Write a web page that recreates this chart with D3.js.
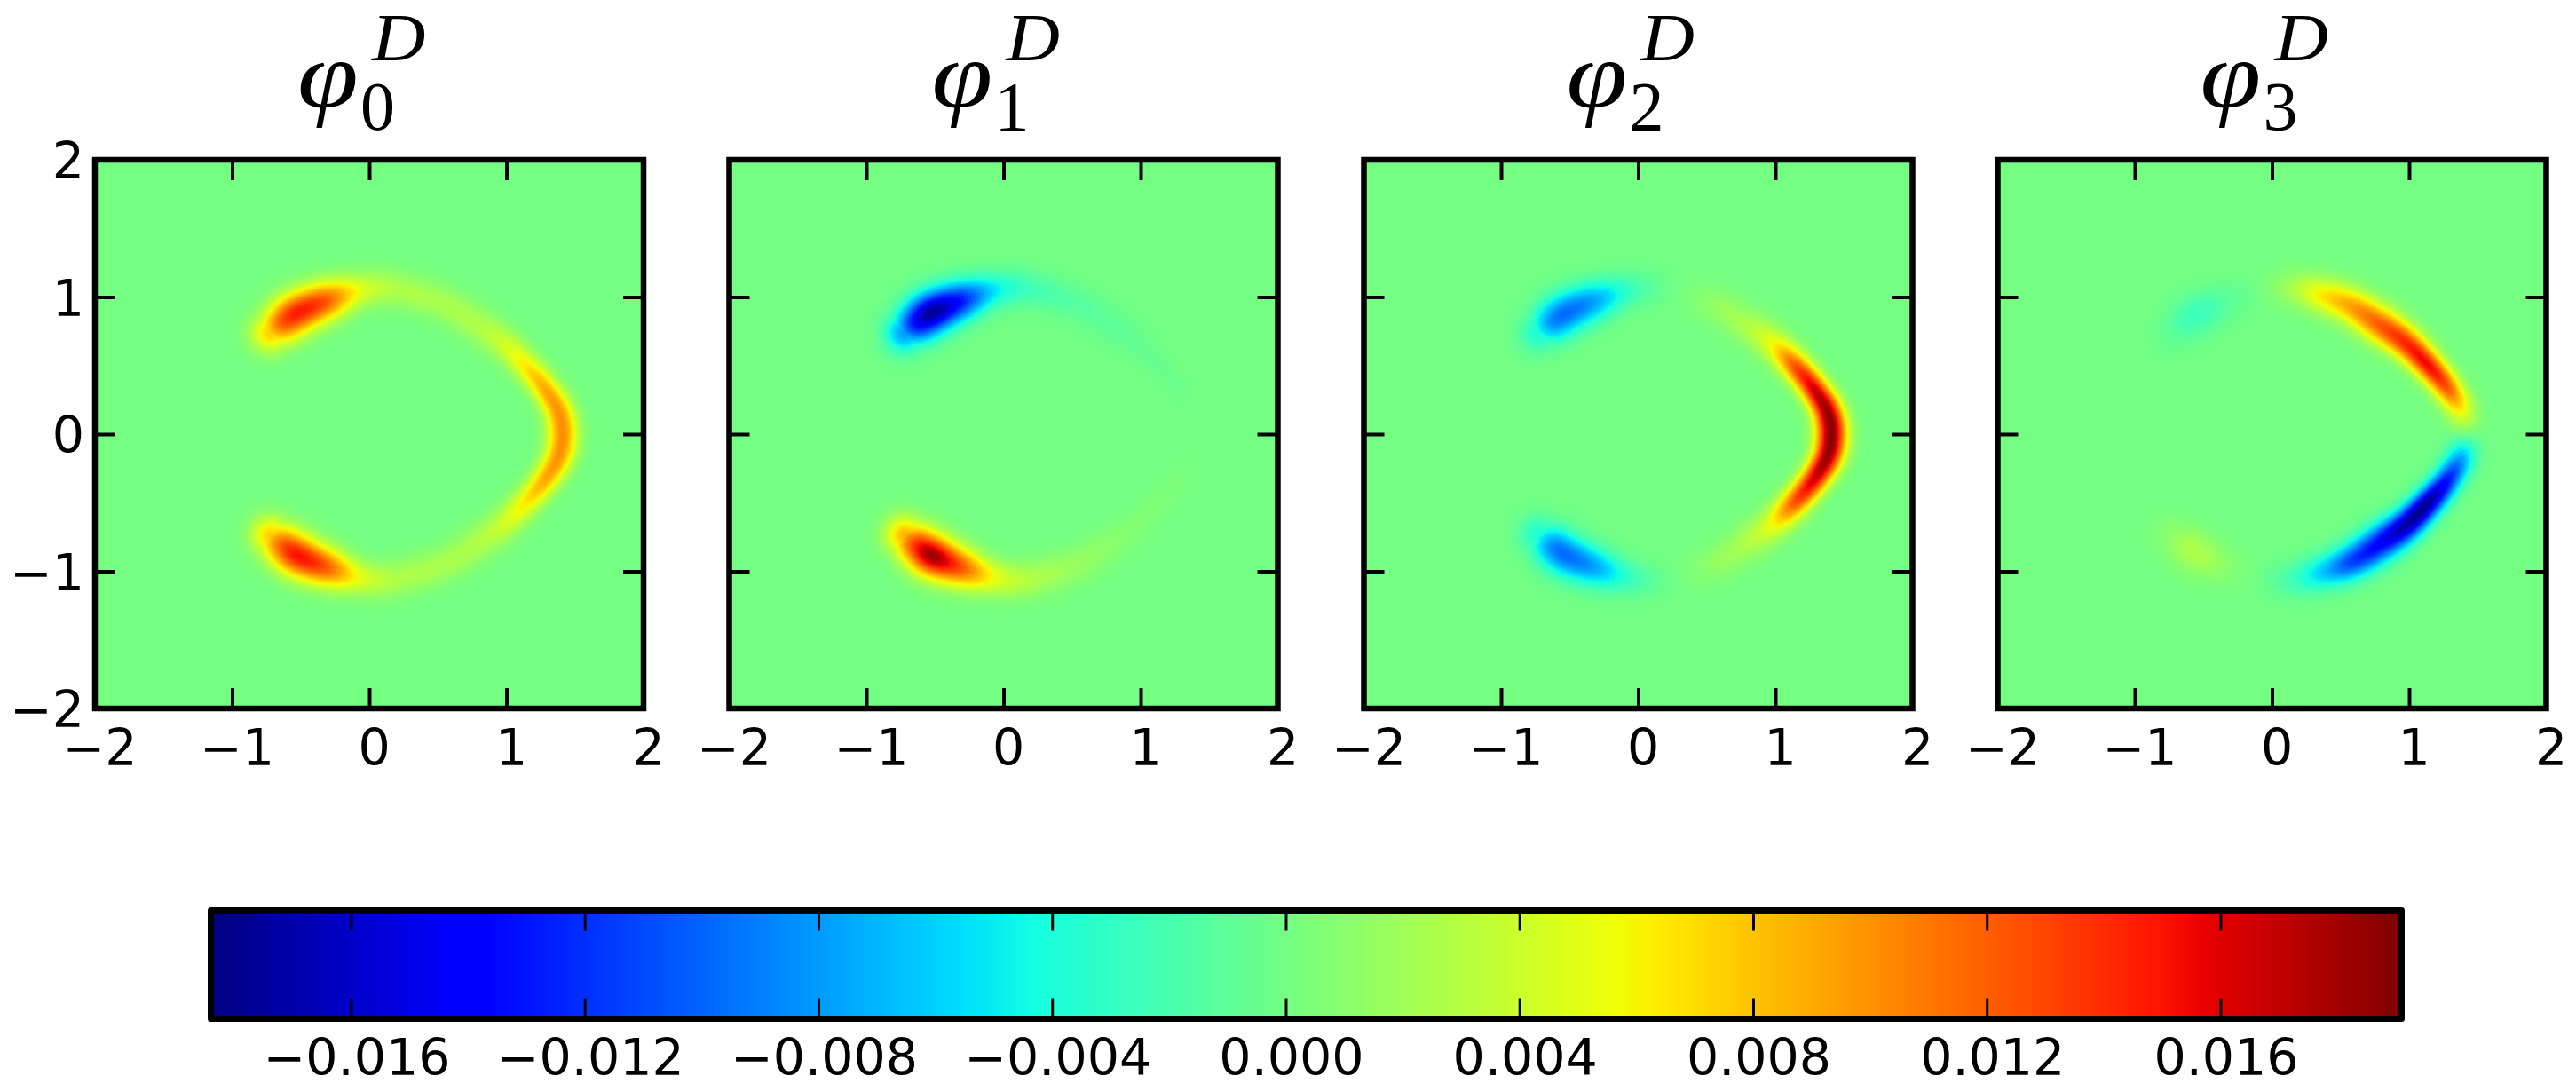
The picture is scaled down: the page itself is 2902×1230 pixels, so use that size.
<!DOCTYPE html>
<html>
<head>
<meta charset="utf-8">
<script src="https://cdnjs.cloudflare.com/ajax/libs/d3/7.8.5/d3.min.js"></script>
<style>
html, body { margin: 0; padding: 0; background: #fff; }
svg { display: block; }
text { fill: #000; }
.tick text { font-family: "DejaVu Sans", sans-serif; }
</style>
</head>
<body>
<script>
// panel titles, axis ticks
var subscripts = ['0', '1', '2', '3'];
var axisTicks = [-2, -1, 0, 1, 2];
var colorTicks = [-0.016, -0.012, -0.008, -0.004, 0, 0.004, 0.008, 0.012, 0.016];
var colorDomain = [-0.0184, 0.0191];

// stations read along the crescent, from its upper left end round the tip to the lower left end
var ridgeX = [-0.72, -0.63, -0.513, -0.32, -0.08, 0.15, 0.37, 0.58, 0.80, 0.98, 1.14, 1.276, 1.378, 1.408,
              1.378, 1.276, 1.14, 0.98, 0.80, 0.58, 0.37, 0.15, -0.08, -0.32, -0.513, -0.63, -0.72];
var ridgeY = [0.74, 0.81, 0.889, 0.97, 1.045, 1.06, 1.01, 0.93, 0.79, 0.66, 0.50, 0.338, 0.168, 0,
              -0.168, -0.338, -0.50, -0.66, -0.79, -0.93, -1.01, -1.06, -1.045, -0.97, -0.889, -0.81, -0.74];
var ridgeWidth = [0.10, 0.105, 0.105, 0.10, 0.09, 0.09, 0.09, 0.09, 0.09, 0.08, 0.072, 0.07, 0.075, 0.078,
                  0.075, 0.07, 0.072, 0.08, 0.09, 0.09, 0.09, 0.09, 0.09, 0.10, 0.105, 0.105, 0.10];

// value of each function at those stations
var phi0 = [0.0075, 0.0125, 0.0148, 0.0125, 0.0055, 0.003, 0.0026, 0.0025, 0.0028, 0.0042, 0.0066, 0.009, 0.01, 0.0102,
            0.01, 0.009, 0.0066, 0.0042, 0.0028, 0.0025, 0.0026, 0.003, 0.0055, 0.0125, 0.0152, 0.0125, 0.0075];
var phi1 = [-0.008, -0.0145, -0.0178, -0.0135, -0.0058, -0.0028, -0.0018, -0.0013, -0.001, -0.0007, -0.0005, -0.0003, -0.0001, 0,
            0.0001, 0.0003, 0.0005, 0.0007, 0.001, 0.0016, 0.0022, 0.0032, 0.0058, 0.013, 0.0182, 0.0145, 0.0085];
var phi2 = [-0.004, -0.0085, -0.0098, -0.0078, -0.0032, -0.0008, 0.0004, 0.0016, 0.0028, 0.0058, 0.0125, 0.0165, 0.0185, 0.019,
            0.0185, 0.0165, 0.0125, 0.0058, 0.0028, 0.0016, 0.0004, -0.0008, -0.0032, -0.0078, -0.0098, -0.0085, -0.004];
var phi3 = [-0.001, -0.0022, -0.0026, -0.0012, 0.0001, 0.0026, 0.0066, 0.0095, 0.0125, 0.0145, 0.0155, 0.0125, 0.006, -0.0002,
            -0.0075, -0.0135, -0.0178, -0.0175, -0.0145, -0.0115, -0.0065, -0.0025, -0.0003, 0.001, 0.0025, 0.0024, 0.0012];
var panels = [phi0, phi1, phi2, phi3];

// matplotlib jet
var jetR = d3.scaleLinear().domain([0, 0.35, 0.66, 0.89, 1]).range([0, 0, 255, 255, 128]);
var jetG = d3.scaleLinear().domain([0, 0.125, 0.375, 0.64, 0.91, 1]).range([0, 0, 255, 255, 0, 0]);
var jetB = d3.scaleLinear().domain([0, 0.11, 0.34, 0.65, 1]).range([128, 255, 255, 0, 0]);
var colorT = d3.scaleLinear().domain(colorDomain).range([0, 1]).clamp(true);

function jet(v) {
    var t = colorT(v);
    return [jetR(t), jetG(t), jetB(t)];
}

var width = 2902, height = 1230;
var panelLeft = [107, 821.5, 1536.5, 2250.5];
var panelSize = 618, panelTop = 180;
var cell = 2;

var svg = d3.select('body').append('svg')
    .attr('width', width)
    .attr('height', height);

var x = d3.scaleLinear().domain([-2, 2]).range([0, panelSize]);
var y = d3.scaleLinear().domain([-2, 2]).range([panelSize, 0]);

// catmull-rom through the stations, so the crescent is smooth
function smooth(a, i, u) {
    var p0 = a[Math.max(i - 1, 0)], p1 = a[i], p2 = a[i + 1], p3 = a[Math.min(i + 2, a.length - 1)];
    return 0.5 * (2 * p1 + (p2 - p0) * u + (2 * p0 - 5 * p1 + 4 * p2 - p3) * u * u + (3 * p1 - p0 - 3 * p2 + p3) * u * u * u);
}

function sampleRidge(values) {
    var out = [], steps = 10;
    d3.range(ridgeX.length - 1).forEach(function (i) {
        d3.range(steps).forEach(function (k) {
            var u = k / steps;
            out.push({
                x: smooth(ridgeX, i, u),
                y: smooth(ridgeY, i, u),
                w: smooth(ridgeWidth, i, u),
                v: smooth(values, i, u)
            });
        });
    });
    var last = ridgeX.length - 1;
    out.push({x: ridgeX[last], y: ridgeY[last], w: ridgeWidth[last], v: values[last]});
    return out;
}

function fieldImage(values) {
    var pts = sampleRidge(values);
    var n = Math.round(panelSize / cell);
    var canvas = document.createElement('canvas');
    canvas.width = n;
    canvas.height = n;
    var ctx = canvas.getContext('2d');
    var img = ctx.createImageData(n, n);
    var back = jet(0);
    for (var j = 0; j < n; j++) {
        var py = y.invert((j + 0.5) * cell);
        for (var i = 0; i < n; i++) {
            var px = x.invert((i + 0.5) * cell);
            var c = back;
            if (px > -1.4 && px < 1.9 && Math.abs(py) < 1.6) {
                var best = Infinity, bp = null;
                for (var k = 0; k < pts.length; k++) {
                    var dx = px - pts[k].x, dy = py - pts[k].y, d = dx * dx + dy * dy;
                    if (d < best) { best = d; bp = pts[k]; }
                }
                c = jet(bp.v * Math.exp(-best / (2 * bp.w * bp.w)));
            }
            var o = (j * n + i) * 4;
            img.data[o] = c[0];
            img.data[o + 1] = c[1];
            img.data[o + 2] = c[2];
            img.data[o + 3] = 255;
        }
    }
    ctx.putImageData(img, 0, 0);
    return canvas.toDataURL();
}

var panel = svg.selectAll('g.panel')
    .data(panels)
    .enter().append('g')
    .attr('class', 'panel')
    .attr('transform', function (d, i) {
        return 'translate(' + panelLeft[i] + ',' + panelTop + ')';
    });

panel.append('image')
    .attr('width', panelSize)
    .attr('height', panelSize)
    .attr('preserveAspectRatio', 'none')
    .attr('href', function (d) { return fieldImage(d); });

function styleAxis(g, size) {
    g.select('.domain').remove();
    g.selectAll('.tick line').attr('stroke', '#000').attr('stroke-width', 4);
    g.selectAll('.tick text').style('font-size', size + 'px').attr('fill', '#000');
}

var tickFormat = d3.format('d');

panel.each(function (d, i) {
    var g = d3.select(this);
    g.append('g')
        .attr('transform', 'translate(0,' + panelSize + ')')
        .call(d3.axisBottom(x).tickValues(axisTicks).tickFormat(tickFormat).tickSizeInner(-23).tickSizeOuter(0).tickPadding(23.5))
        .call(styleAxis, 57)
        .selectAll('.tick text').attr('dx', 5);
    g.append('g')
        .call(d3.axisTop(x).tickValues(axisTicks).tickFormat('').tickSizeInner(-23).tickSizeOuter(0))
        .call(styleAxis, 57);
    g.append('g')
        .call(d3.axisLeft(y).tickValues(axisTicks).tickFormat(i === 0 ? tickFormat : '').tickSizeInner(-23).tickSizeOuter(0).tickPadding(12))
        .call(styleAxis, 57)
        .selectAll('.tick text').attr('dy', '0.365em');
    g.append('g')
        .attr('transform', 'translate(' + panelSize + ',0)')
        .call(d3.axisRight(y).tickValues(axisTicks).tickFormat('').tickSizeInner(-23).tickSizeOuter(0))
        .call(styleAxis, 57);
    g.append('rect')
        .attr('width', panelSize)
        .attr('height', panelSize)
        .attr('fill', 'none')
        .attr('stroke', '#000')
        .attr('stroke-width', 6.5);

    // title
    var cx = panelSize / 2;
    g.append('text')
        .attr('transform', 'translate(' + (cx - 81) + ',-59) scale(1.15,1)')
        .style('font-family', '"Liberation Serif", serif')
        .style('font-style', 'italic')
        .style('font-size', '108px')
        .text('\u03C6');
    g.append('text')
        .attr('x', cx - 10).attr('y', -34.5)
        .style('font-family', '"Liberation Serif", serif')
        .style('font-size', '78px')
        .text(subscripts[i]);
    g.append('text')
        .attr('transform', 'translate(' + (cx + 3) + ',-112) scale(1.1,1)')
        .style('font-family', '"Liberation Serif", serif')
        .style('font-style', 'italic')
        .style('font-size', '76px')
        .text('D');
});

// colour bar
var barLeft = 237.5, barRight = 2705.5, barTop = 1025.5, barBottom = 1147.5;
var barScale = d3.scaleLinear().domain(colorDomain).range([barLeft, barRight]);
var bar = svg.append('g');

bar.selectAll('rect.step')
    .data(d3.range(barLeft, barRight, 2))
    .enter().append('rect')
    .attr('class', 'step')
    .attr('x', function (d) { return d; })
    .attr('y', barTop)
    .attr('width', 2.5)
    .attr('height', barBottom - barTop)
    .attr('fill', function (d) {
        return d3.rgb.apply(null, jet(barScale.invert(d))).toString();
    });

bar.append('g')
    .attr('transform', 'translate(0,' + barBottom + ')')
    .call(d3.axisBottom(barScale).tickValues(colorTicks).tickFormat(d3.format('.3f')).tickSizeInner(-23).tickSizeOuter(0).tickPadding(23))
    .call(styleAxis, 57)
    .selectAll('.tick text').attr('dx', 6);
bar.append('g')
    .attr('transform', 'translate(0,' + barTop + ')')
    .call(d3.axisTop(barScale).tickValues(colorTicks).tickFormat('').tickSizeInner(-23).tickSizeOuter(0))
    .call(styleAxis, 57);
bar.selectAll('.tick line').attr('stroke-width', 3);
bar.append('rect')
    .attr('x', barLeft)
    .attr('y', barTop)
    .attr('width', barRight - barLeft)
    .attr('height', barBottom - barTop)
    .attr('fill', 'none')
    .attr('stroke', '#000')
    .attr('stroke-width', 7)
    .attr('stroke-linejoin', 'round');
</script>
</body>
</html>
